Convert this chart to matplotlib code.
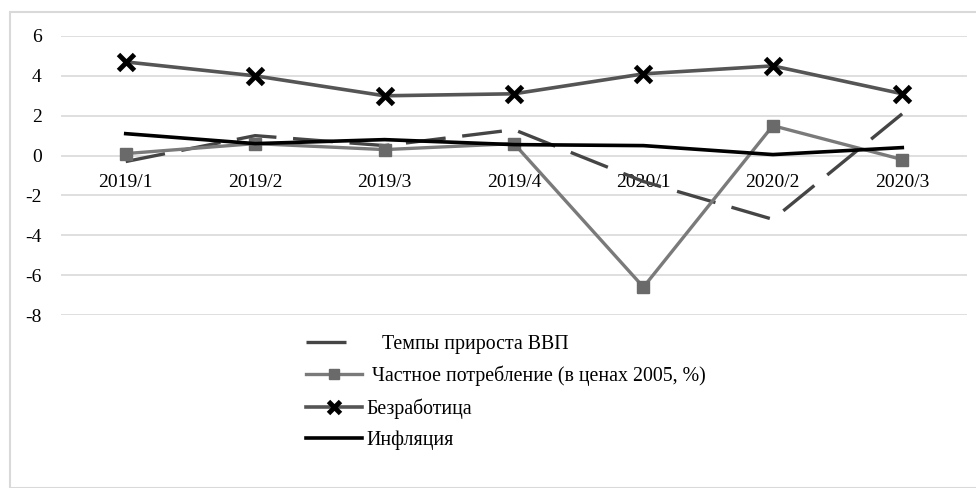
import matplotlib
matplotlib.use("Agg")
import matplotlib.pyplot as plt
from matplotlib.patches import Rectangle

plt.rcParams['font.family'] = ['Liberation Serif', 'DejaVu Serif']

categories = ["2019/1", "2019/2", "2019/3", "2019/4", "2020/1", "2020/2", "2020/3"]
gdp = [-0.3, 1.0, 0.5, 1.3, -1.3, -3.2, 2.1]
consumption = [0.1, 0.6, 0.3, 0.6, -6.6, 1.5, -0.2]
unemployment = [4.7, 4.0, 3.0, 3.1, 4.1, 4.5, 3.1]
inflation = [1.1, 0.6, 0.8, 0.55, 0.5, 0.05, 0.4]
labels = ["   Темпы прироста ВВП", " Частное потребление (в ценах 2005, %)",
          "Безработица", "Инфляция"]
yticks = [-8, -6, -4, -2, 0, 2, 4, 6]

fig = plt.figure(figsize=(9.76, 4.88), dpi=100)
W, H = 976, 488
ax = fig.add_axes([61 / W, 1 - 315 / H, (967 - 61) / W, (315 - 36) / H])

x = list(range(len(categories)))
l1, = ax.plot(x, gdp, color='#454545', lw=2.4, dashes=[12, 5], zorder=3)
l2, = ax.plot(x, consumption, color='#7a7a7a', lw=2.4, marker='s', ms=9,
              mfc='#6a6a6a', mec='#6a6a6a', zorder=4)
l3, = ax.plot(x, unemployment, color='#555555', lw=2.6, marker='x', ms=11,
              mew=3.5, mec='black', zorder=5)
l4, = ax.plot(x, inflation, color='black', lw=2.6, zorder=6)

ax.set_xlim(-0.5, len(categories) - 0.5)
ax.set_ylim(-8, 6)
ax.set_yticks(yticks)
ax.set_yticklabels([str(v) for v in yticks])
ax.set_xticks(x)
ax.set_xticklabels(categories)
ax.grid(axis='y', color='#d9d9d9', lw=1.2)
ax.set_axisbelow(True)
for s in ['top', 'right', 'left']:
    ax.spines[s].set_visible(False)
ax.spines['bottom'].set_position(('data', 0))
ax.spines['bottom'].set_visible(False)
ax.tick_params(axis='x', length=0, pad=13.5, labelsize=14)
ax.tick_params(axis='y', length=0, pad=14, labelsize=14)

fig.legend([l1, l2, l3, l4], labels, loc='upper left',
           bbox_to_anchor=(306 / W, 1 - 335 / H), frameon=False,
           fontsize=14.3, handlelength=2.8, handletextpad=0.25,
           labelspacing=0.6, borderpad=0, borderaxespad=0, markerscale=0.85)

fig.patches.append(Rectangle((10 / W, 0), 1.2, 1 - 12 / H, transform=fig.transFigure,
                             fill=False, edgecolor='#d9d9d9', lw=1.5))

fig.savefig("out.png", dpi=100)
